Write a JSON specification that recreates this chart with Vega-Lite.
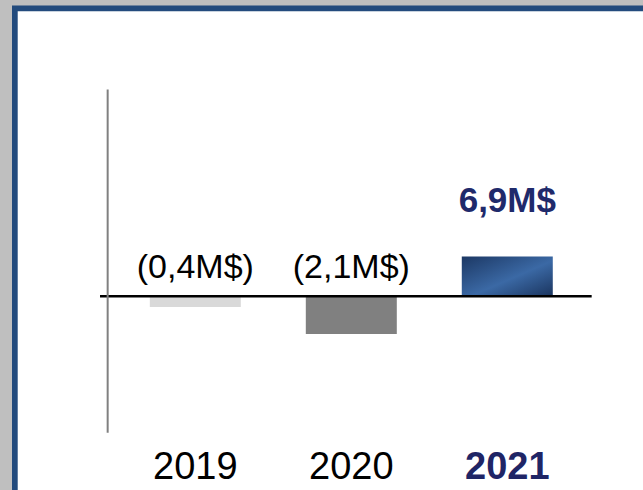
{
  "$schema": "https://vega.github.io/schema/vega-lite/v6.json",
  "width": 640,
  "height": 490,
  "autosize": {"type": "none"},
  "padding": {"left": 14.85, "top": 8.4, "right": 0, "bottom": 0},
  "background": "#bfbfbf",
  "config": {
    "view": {"fill": "white", "stroke": "#234b7d", "strokeWidth": 5.7},
    "font": "Liberation Sans"
  },
  "data": {
    "values": [
      {"year": 2019, "label": "(0,4M$)", "value": -0.4, "bar": -0.6},
      {"year": 2020, "label": "(2,1M$)", "value": -2.1, "bar": -2.1},
      {"year": 2021, "label": "6,9M$", "value": 6.9, "bar": 2.2}
    ]
  },
  "layer": [
    {
      "transform": [{"filter": "datum.year < 2021"}],
      "mark": {"type": "bar", "size": 91},
      "encoding": {
        "x": {"field": "year", "type": "quantitative", "axis": null, "scale": {"domain": [2017.843, 2021.946], "nice": false, "zero": false, "padding": 0}},
        "y": {"field": "bar", "type": "quantitative", "axis": null, "scale": {"domain": [-11.233, 15.989], "nice": false, "zero": false, "padding": 0}},
        "color": {
          "field": "year", "type": "nominal", "legend": null,
          "scale": {"domain": [2019, 2020], "range": ["#d9d9d9", "#808080"]}
        }
      }
    },
    {
      "transform": [{"filter": "datum.year == 2021"}],
      "mark": {
        "type": "bar", "size": 91,
        "color": {
          "gradient": "linear", "x1": 0, "y1": 0, "x2": 1, "y2": 1,
          "stops": [
            {"offset": 0, "color": "#1c3864"},
            {"offset": 0.55, "color": "#3b69a5"},
            {"offset": 1, "color": "#1a345e"}
          ]
        }
      },
      "encoding": {
        "x": {"field": "year", "type": "quantitative", "axis": null},
        "y": {"field": "bar", "type": "quantitative", "axis": null}
      }
    },
    {
      "data": {"values": [{}]},
      "mark": {"type": "rule", "color": "#000000", "strokeWidth": 2.4},
      "encoding": {
        "x": {"datum": 2018.389, "type": "quantitative", "axis": null},
        "x2": {"datum": 2021.541},
        "y": {"datum": 0, "type": "quantitative", "axis": null}
      }
    },
    {
      "data": {"values": [{}]},
      "mark": {"type": "rule", "color": "#808080", "strokeWidth": 2},
      "encoding": {
        "x": {"datum": 2018.438, "type": "quantitative", "axis": null},
        "y": {"datum": 11.49, "type": "quantitative", "axis": null},
        "y2": {"datum": -7.58}
      }
    },
    {
      "transform": [{"filter": "datum.value < 0"}],
      "mark": {"type": "text", "fontSize": 34, "color": "#000000", "baseline": "middle", "dy": -28},
      "encoding": {
        "x": {"field": "year", "type": "quantitative", "axis": null},
        "y": {"datum": 0, "type": "quantitative", "axis": null},
        "text": {"field": "label", "type": "nominal"}
      }
    },
    {
      "transform": [{"filter": "datum.value > 0"}],
      "mark": {"type": "text", "fontSize": 35, "fontWeight": "bold", "color": "#1f2a6b", "baseline": "middle", "dy": -56},
      "encoding": {
        "x": {"field": "year", "type": "quantitative", "axis": null},
        "y": {"field": "bar", "type": "quantitative", "axis": null},
        "text": {"field": "label", "type": "nominal"}
      }
    },
    {
      "transform": [{"filter": "datum.year < 2021"}],
      "mark": {"type": "text", "fontSize": 38, "color": "#000000", "baseline": "middle"},
      "encoding": {
        "x": {"field": "year", "type": "quantitative", "axis": null},
        "y": {"datum": -9.54, "type": "quantitative", "axis": null},
        "text": {"field": "year", "type": "nominal"}
      }
    },
    {
      "transform": [{"filter": "datum.year == 2021"}],
      "mark": {"type": "text", "fontSize": 38, "fontWeight": "bold", "color": "#1f2566", "baseline": "middle"},
      "encoding": {
        "x": {"field": "year", "type": "quantitative", "axis": null},
        "y": {"datum": -9.54, "type": "quantitative", "axis": null},
        "text": {"field": "year", "type": "nominal"}
      }
    }
  ]
}
